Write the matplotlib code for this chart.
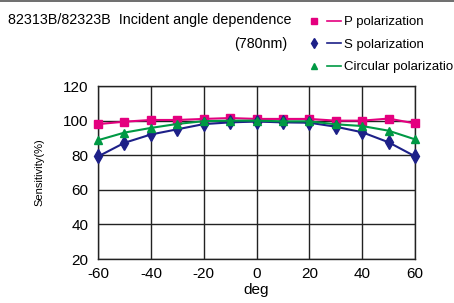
import matplotlib
matplotlib.use("Agg")
import matplotlib.pyplot as plt
from matplotlib.lines import Line2D
from matplotlib.legend_handler import HandlerTuple

plt.rcParams['font.family'] = ['Liberation Sans', 'DejaVu Sans']
plt.rcParams['axes.unicode_minus'] = False

# data
angles = [-60, -50, -40, -30, -20, -10, 0, 10, 20, 30, 40, 50, 60]
p_pol = [98.0, 99.4, 100.4, 100.4, 101.0, 101.5, 101.0, 101.0, 101.0, 100.0, 100.0, 101.2, 98.4]
s_pol = [79.3, 87.2, 92.0, 95.0, 98.0, 99.0, 99.5, 99.0, 98.8, 96.5, 93.3, 87.5, 79.4]
c_pol = [88.7, 93.1, 95.8, 98.1, 99.7, 100.0, 100.0, 99.6, 99.6, 97.9, 96.9, 94.2, 89.2]
labels = ["P polarization", "S polarization", "Circular polarization"]
colors = ["#E4007F", "#1D2088", "#009944"]
markers = ["s", "d", "^"]
xticks = [-60, -40, -20, 0, 20, 40, 60]
yticks = [20, 40, 60, 80, 100, 120]

fig = plt.figure(figsize=(4.54, 3.03), dpi=100)
ax = fig.add_axes([0.216, 0.145, 0.698, 0.571])

series = [p_pol, s_pol, c_pol]
sizes = [6, 7, 6]
handles = []
for vals, col, mk, ms in zip(series, colors, markers, sizes):
    ax.plot(angles, vals, color=col, lw=1.5, marker=mk, ms=ms, mec=col, mfc=col,
            clip_on=False, zorder=3)
    handles.append((Line2D([], [], color=col, marker=mk, ls="none", ms=ms - 1.5),
                    Line2D([], [], color=col, lw=1.2)))

ax.set_xlim(-60, 60)
ax.set_ylim(20, 120)
ax.set_xticks(xticks)
ax.set_yticks(yticks)
ax.grid(True, color="#222222", lw=1.0)
ax.set_axisbelow(True)
for sp in ax.spines.values():
    sp.set_color("#222222")
    sp.set_linewidth(1.0)
ax.tick_params(length=0, labelsize=11)
ax.tick_params(axis="x", pad=6)
ax.tick_params(axis="y", pad=7)
ax.set_xlabel("deg", fontsize=11, labelpad=1)
ax.set_ylabel("Sensitivity(%)", fontsize=8, labelpad=13)

fig.text(0.018, 0.934, "82313B/82323B  Incident angle dependence", fontsize=10.3, va="center")
fig.text(0.632, 0.855, "(780nm)", fontsize=10.3, va="center", ha="right")

leg = fig.legend(handles, labels, handler_map={tuple: HandlerTuple(ndivide=None, pad=0.5)},
                 loc="upper left", bbox_to_anchor=(0.676, 0.947), frameon=False,
                 fontsize=9.5, handlelength=2.6, handletextpad=0.2, labelspacing=0.78,
                 borderaxespad=0, borderpad=0)

fig.add_artist(Line2D([0, 1], [0.997, 0.997], color="#555555", lw=1.2))

fig.savefig("out.png", dpi=100)
